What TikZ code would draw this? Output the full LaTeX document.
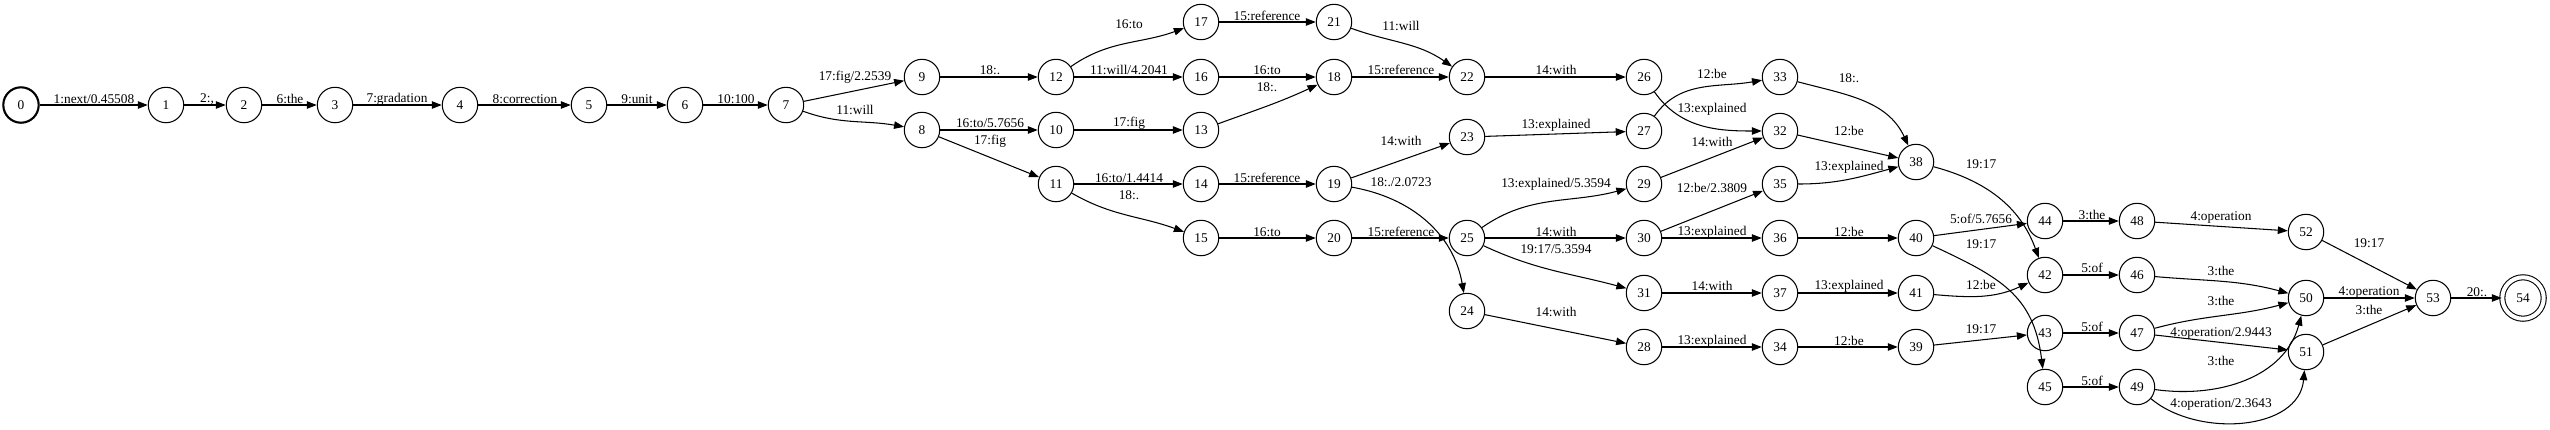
\documentclass[tikz,border=0pt]{standalone}
\usepackage{fontspec}
\setmainfont{Liberation Serif}
\usetikzlibrary{arrows.meta}

\tikzset{
  state/.style={circle, draw, line width=0.3pt, minimum size=0.354cm, inner sep=0pt,
    font=\fontsize{3.8}{4.5}\selectfont},
  start/.style={state, line width=0.6pt},
  final/.style={state, double, double distance=0.04cm, minimum size=0.414cm},
  arc/.style={-{Triangle[length=0.1cm,width=0.075cm]}, line width=0.3pt},
  lab/.style={font=\fontsize{3.8}{4.5}\selectfont, inner sep=0pt},
}

\begin{document}
\begin{tikzpicture}[x=0.01cm,y=0.01cm]
      \useasboundingbox (0,0) rectangle (2550,429);
      % States
      \node[start] (q0) at (21,324) {0};
      \node[state] (q1) at (166,324) {1};
      \node[state] (q2) at (244,324) {2};
      \node[state] (q3) at (335,324) {3};
      \node[state] (q4) at (460,324) {4};
      \node[state] (q5) at (589,324) {5};
      \node[state] (q6) at (685,324) {6};
      \node[state] (q7) at (786,324) {7};
      \node[state] (q9) at (922,352) {9};
      \node[state] (q8) at (922,299) {8};
      \node[state] (q12) at (1056,352) {12};
      \node[state] (q10) at (1056,299) {10};
      \node[state] (q11) at (1056,245) {11};
      \node[state] (q17) at (1201,407) {17};
      \node[state] (q16) at (1201,352) {16};
      \node[state] (q13) at (1201,299) {13};
      \node[state] (q14) at (1201,245) {14};
      \node[state] (q15) at (1201,191) {15};
      \node[state] (q21) at (1334,407) {21};
      \node[state] (q18) at (1334,352) {18};
      \node[state] (q19) at (1334,245) {19};
      \node[state] (q20) at (1334,191) {20};
      \node[state] (q22) at (1467,352) {22};
      \node[state] (q23) at (1467,292) {23};
      \node[state] (q25) at (1467,191) {25};
      \node[state] (q24) at (1467,118) {24};
      \node[state] (q26) at (1644,352) {26};
      \node[state] (q27) at (1644,298) {27};
      \node[state] (q29) at (1644,245) {29};
      \node[state] (q30) at (1644,191) {30};
      \node[state] (q31) at (1644,136) {31};
      \node[state] (q28) at (1644,82) {28};
      \node[state] (q33) at (1780,352) {33};
      \node[state] (q32) at (1780,298) {32};
      \node[state] (q35) at (1780,245) {35};
      \node[state] (q36) at (1780,191) {36};
      \node[state] (q37) at (1780,136) {37};
      \node[state] (q34) at (1780,82) {34};
      \node[state] (q38) at (1916,267) {38};
      \node[state] (q40) at (1916,191) {40};
      \node[state] (q41) at (1916,136) {41};
      \node[state] (q39) at (1916,82) {39};
      \node[state] (q44) at (2045,208) {44};
      \node[state] (q42) at (2045,154) {42};
      \node[state] (q43) at (2045,96) {43};
      \node[state] (q45) at (2045,42) {45};
      \node[state] (q48) at (2137,208) {48};
      \node[state] (q46) at (2137,154) {46};
      \node[state] (q47) at (2137,96) {47};
      \node[state] (q49) at (2137,42) {49};
      \node[state] (q52) at (2306,197) {52};
      \node[state] (q50) at (2306,131) {50};
      \node[state] (q51) at (2306,77) {51};
      \node[state] (q53) at (2433,131) {53};
      \node[final] (q54) at (2523,131) {54};
      % Chain 0 -- 7
      \draw[arc] (q0) -- (q1) node[lab] (t0-1) at (94,330) {1:next/0.45508};
      \draw[arc] (q1) -- (q2) node[lab] (t1-2) at (207,330) {2:,};
      \draw[arc] (q2) -- (q3) node[lab] (t2-3) at (290,330) {6:the};
      \draw[arc] (q3) -- (q4) node[lab] (t3-4) at (397,330) {7:gradation};
      \draw[arc] (q4) -- (q5) node[lab] (t4-5) at (525,330) {8:correction};
      \draw[arc] (q5) -- (q6) node[lab] (t5-6) at (637,330) {9:unit};
      \draw[arc] (q6) -- (q7) node[lab] (t6-7) at (736,330) {10:100};
      % Split at 7
      \draw[arc] (q7) -- (q9) node[lab] (t7-9) at (855,352) {17:fig/2.2539};
      \draw[arc] (q7) to[out=-20,in=170] (q8) node[lab] (t7-8) at (855,319) {11:will};
      \draw[arc] (q9) -- (q12) node[lab] (t9-12) at (990,359) {18:.};
      \draw[arc] (q8) -- (q10) node[lab] (t8-10) at (990,306) {16:to/5.7656};
      \draw[arc] (q8) -- (q11) node[lab] (t8-11) at (990,288) {17:fig};
      \draw[arc] (q12) to[out=35,in=200] (q17) node[lab] (t12-17) at (1129,405) {16:to};
      \draw[arc] (q12) -- (q16) node[lab] (t12-16) at (1129,359) {11:will/4.2041};
      \draw[arc] (q10) -- (q13) node[lab] (t10-13) at (1129,306) {17:fig};
      \draw[arc] (q11) -- (q14) node[lab] (t11-14) at (1129,251) {16:to/1.4414};
      \draw[arc] (q11) to[out=-30,in=160] (q15) node[lab] (t11-15) at (1129,234) {18:.};
      % Column 17 -- 15
      \draw[arc] (q17) -- (q21) node[lab] (t17-21) at (1267,413) {15:reference};
      \draw[arc] (q16) -- (q18) node[lab] (t16-18) at (1267,359) {16:to};
      \draw[arc] (q13) to[out=20,in=205] (q18) node[lab] (t13-18) at (1267,342) {18:.};
      \draw[arc] (q14) -- (q19) node[lab] (t14-19) at (1267,251) {15:reference};
      \draw[arc] (q15) -- (q20) node[lab] (t15-20) at (1267,197) {16:to};
      \draw[arc] (q21) to[out=-20,in=145] (q22) node[lab] (t21-22) at (1401,403) {11:will};
      \draw[arc] (q18) -- (q22) node[lab] (t18-22) at (1401,359) {15:reference};
      \draw[arc] (q19) -- (q23) node[lab] (t19-23) at (1401,288) {14:with};
      \draw[arc] (q19) to[out=-10,in=100] (q24) node[lab] (t19-24) at (1401,247) {18:./2.0723};
      \draw[arc] (q20) -- (q25) node[lab] (t20-25) at (1401,197) {15:reference};
      % Column 22 -- 24
      \draw[arc] (q22) -- (q26) node[lab] (t22-26) at (1556,359) {14:with};
      \draw[arc] (q23) -- (q27) node[lab] (t23-27) at (1556,304) {13:explained};
      \draw[arc] (q25) to[out=35,in=195] (q29) node[lab] (t25-29) at (1556,245) {13:explained/5.3594};
      \draw[arc] (q25) -- (q30) node[lab] (t25-30) at (1556,197) {14:with};
      \draw[arc] (q25) to[out=-25,in=165] (q31) node[lab] (t25-31) at (1556,180) {19:17/5.3594};
      \draw[arc] (q24) -- (q28) node[lab] (t24-28) at (1556,117) {14:with};
      % Column 26 -- 28
      \draw[arc] (q27) to[out=55,in=190] (q33) node[lab] (t27-33) at (1712,355) {12:be};
      \draw[arc] (q26) to[out=-55,in=180] (q32) node[lab] (t26-32) at (1712,320) {13:explained};
      \draw[arc] (q29) -- (q32) node[lab] (t29-32) at (1712,287) {14:with};
      \draw[arc] (q30) -- (q35) node[lab] (t30-35) at (1712,241) {12:be/2.3809};
      \draw[arc] (q30) -- (q36) node[lab] (t30-36) at (1712,197) {13:explained};
      \draw[arc] (q31) -- (q37) node[lab] (t31-37) at (1712,143) {14:with};
      \draw[arc] (q28) -- (q34) node[lab] (t28-34) at (1712,88) {13:explained};
      % Column 33 -- 34
      \draw[arc] (q33) to[out=-15,in=115] (q38) node[lab] (t33-38) at (1849,351) {18:.};
      \draw[arc] (q32) -- (q38) node[lab] (t32-38) at (1849,298) {12:be};
      \draw[arc] (q35) to[out=0,in=195] (q38) node[lab] (t35-38) at (1849,262) {13:explained};
      \draw[arc] (q36) -- (q40) node[lab] (t36-40) at (1849,197) {12:be};
      \draw[arc] (q37) -- (q41) node[lab] (t37-41) at (1849,143) {13:explained};
      \draw[arc] (q34) -- (q39) node[lab] (t34-39) at (1849,88) {12:be};
      % Column 38 -- 39
      \draw[arc] (q38) to[out=-15,in=110] (q42) node[lab] (t38-42) at (1981,265) {19:17};
      \draw[arc] (q40) -- (q44) node[lab] (t40-44) at (1981,210) {5:of/5.7656};
      \draw[arc] (q40) to[out=-25,in=97,looseness=1.15] (q45) node[lab] (t40-45) at (1981,185) {19:17};
      \draw[arc] (q41) to[out=-5,in=205] (q42) node[lab] (t41-42) at (1981,144) {12:be};
      \draw[arc] (q39) -- (q43) node[lab] (t39-43) at (1981,100) {19:17};
      % Column 44 -- 45
      \draw[arc] (q44) -- (q48) node[lab] (t44-48) at (2092,214) {3:the};
      \draw[arc] (q42) -- (q46) node[lab] (t42-46) at (2092,161) {5:of};
      \draw[arc] (q43) -- (q47) node[lab] (t43-47) at (2092,102) {5:of};
      \draw[arc] (q45) -- (q49) node[lab] (t45-49) at (2092,48) {5:of};
      % Column 48 -- 49
      \draw[arc] (q48) -- (q52) node[lab] (t48-52) at (2221,212) {4:operation};
      \draw[arc] (q46) to[out=-5,in=165] (q50) node[lab] (t46-50) at (2221,158) {3:the};
      \draw[arc] (q47) to[out=15,in=195] (q50) node[lab] (t47-50) at (2221,128) {3:the};
      \draw[arc] (q47) -- (q51) node[lab] (t47-51) at (2221,96) {4:operation/2.9443};
      \draw[arc] (q49) to[out=-8,in=-105] (q50) node[lab] (t49-50) at (2221,68) {3:the};
      \draw[arc] (q49) to[out=-40,in=-95] (q51) node[lab] (t49-51) at (2221,25) {4:operation/2.3643};
      % Final
      \draw[arc] (q52) -- (q53) node[lab] (t52-53) at (2369,186) {19:17};
      \draw[arc] (q50) -- (q53) node[lab] (t50-53) at (2369,137) {4:operation};
      \draw[arc] (q51) -- (q53) node[lab] (t51-53) at (2369,119) {3:the};
      \draw[arc] (q53) -- (q54) node[lab] (t53-54) at (2477,137) {20:.};
    \end{tikzpicture}
\end{document}
